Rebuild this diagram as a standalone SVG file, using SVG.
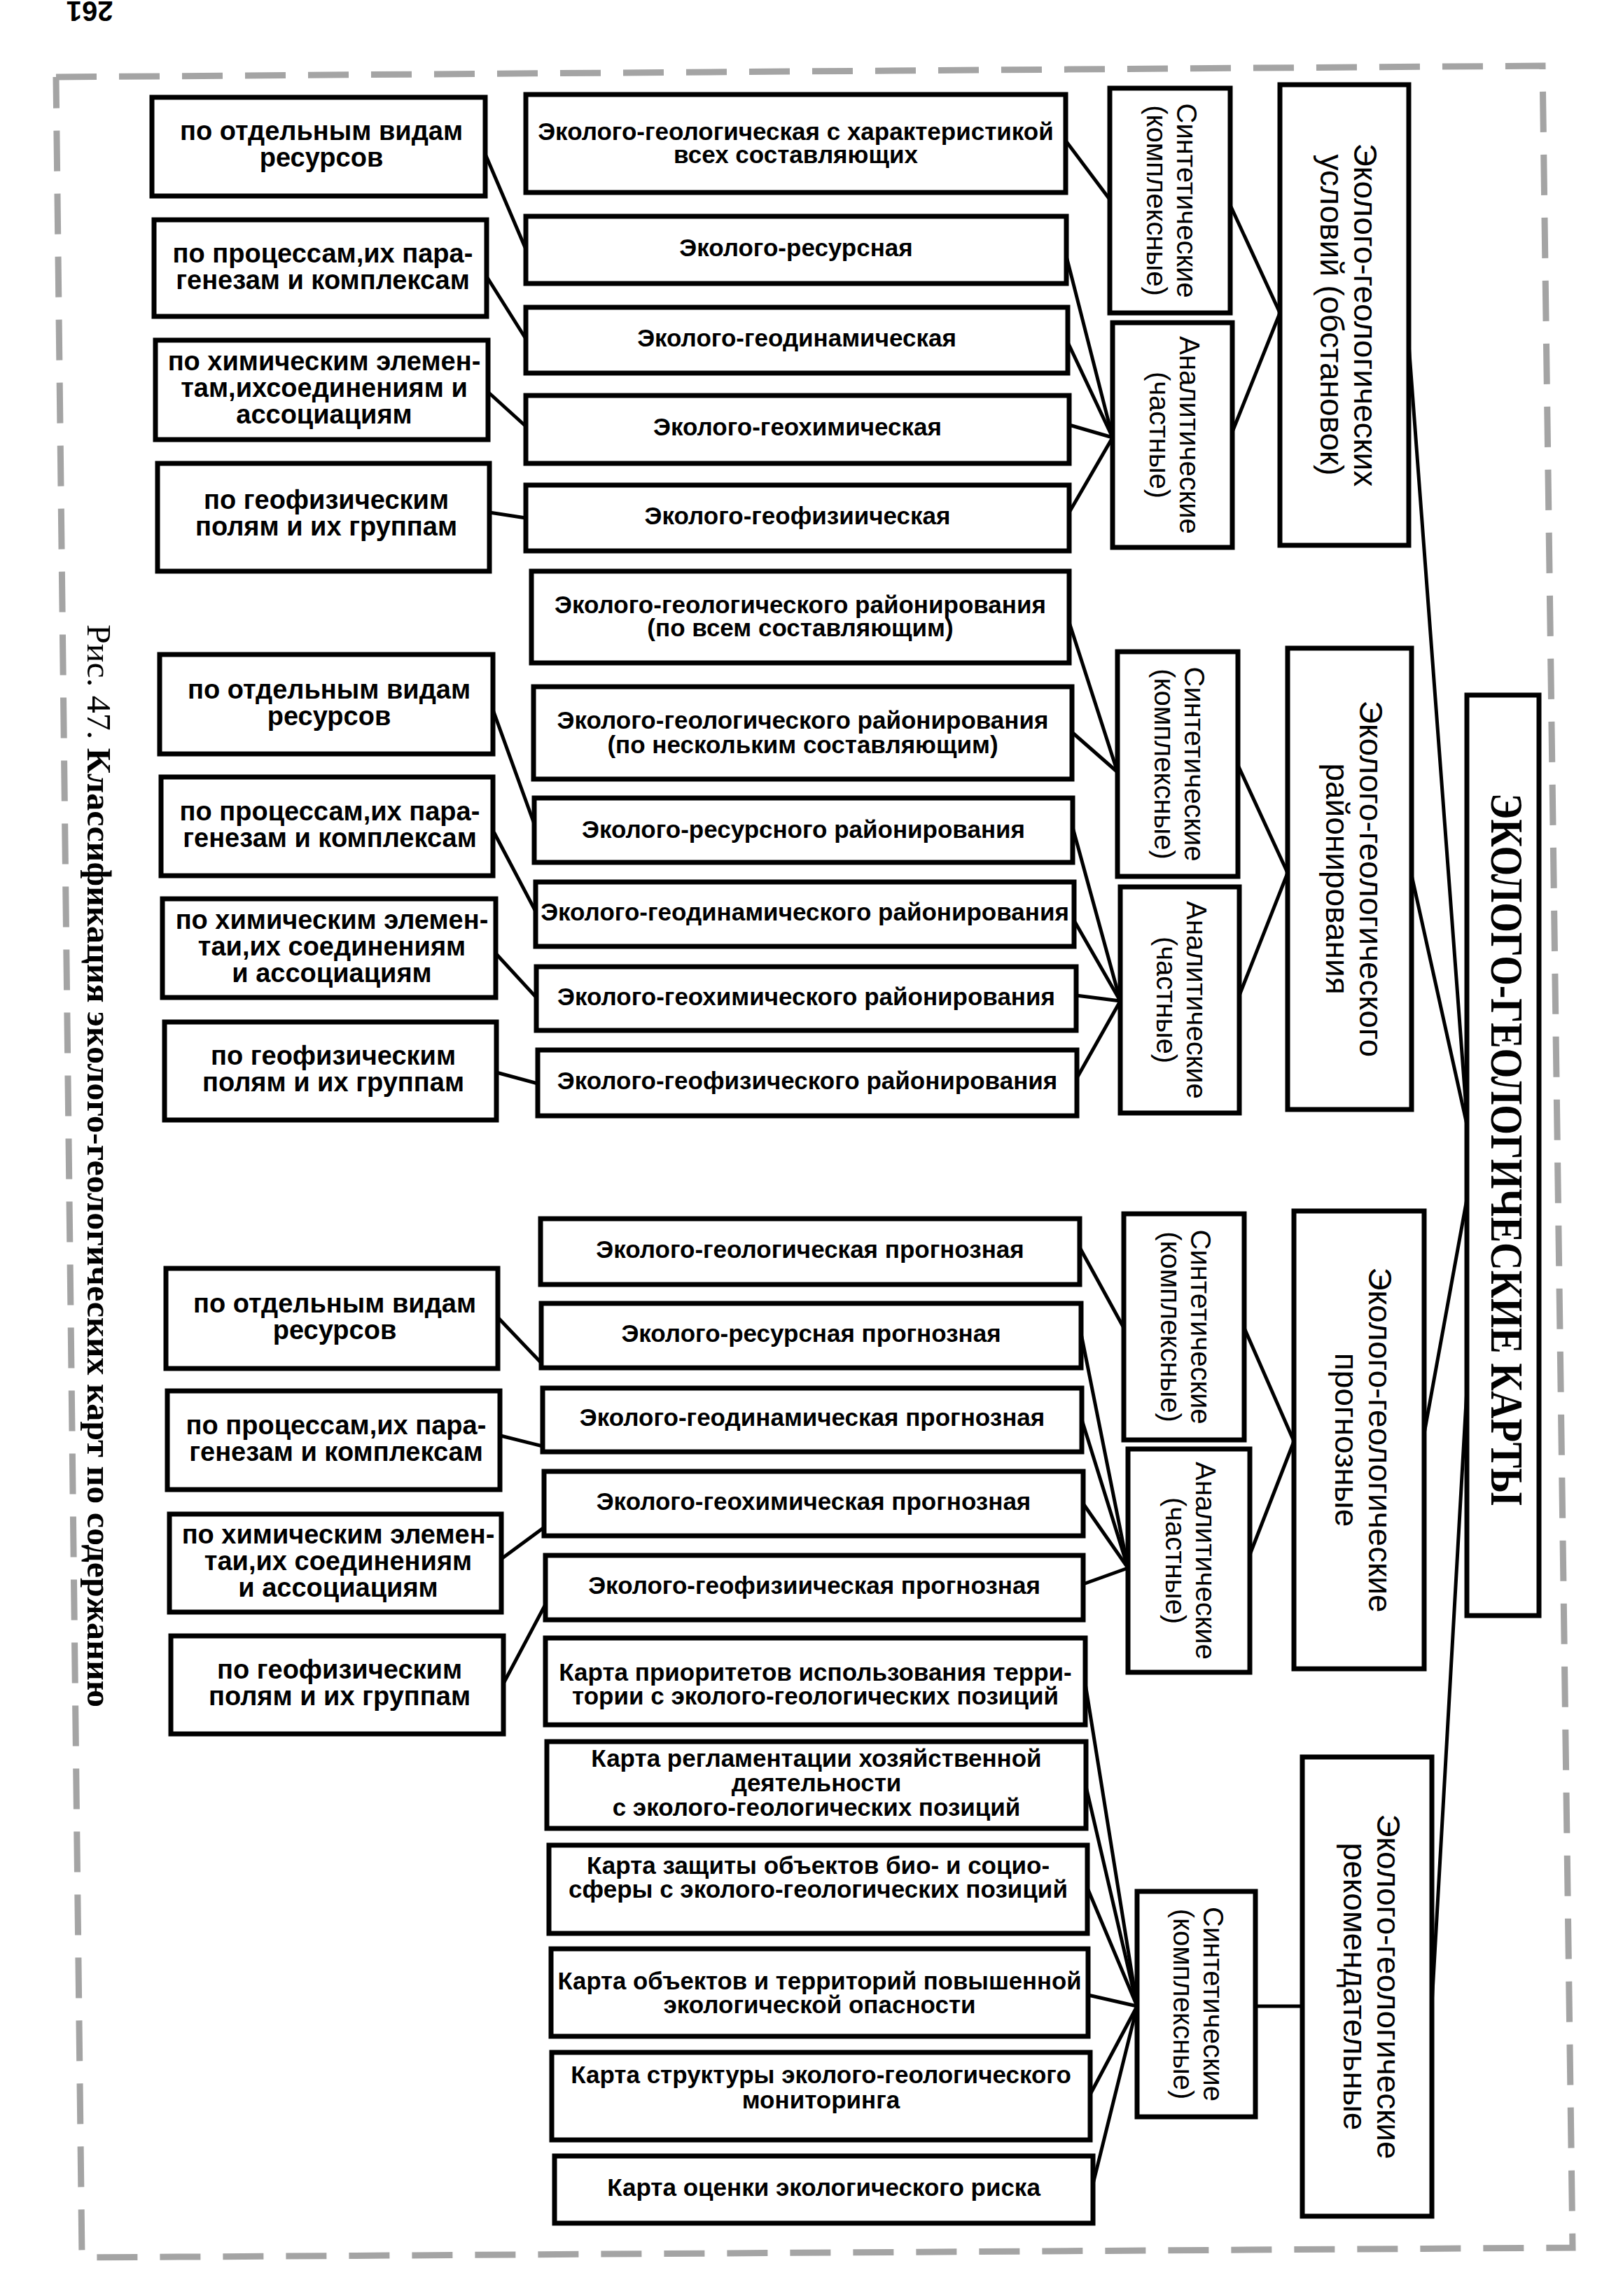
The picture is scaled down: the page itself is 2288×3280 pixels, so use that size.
<svg xmlns="http://www.w3.org/2000/svg" width="2288" height="3280" viewBox="0 0 2288 3280">
<style>
.box{fill:#fff;stroke:#000;stroke-width:7}
.ln{stroke:#000;stroke-width:5;fill:none;stroke-linecap:round}
.brd{stroke:#a4a4a4;stroke-width:9;stroke-dasharray:58 32;fill:none}
.tl{font-family:"Liberation Sans",Arial,sans-serif;font-weight:bold;font-size:38px;text-anchor:middle;fill:#000}
.tm{font-family:"Liberation Sans",Arial,sans-serif;font-weight:bold;font-size:35px;text-anchor:middle;fill:#000}
.tr{font-family:"Liberation Sans",Arial,sans-serif;font-size:40px;text-anchor:middle;fill:#000}
.tb{font-family:"Liberation Sans",Arial,sans-serif;font-size:46px;text-anchor:middle;fill:#000}
.tmain{font-family:"Liberation Serif","Times New Roman",serif;font-weight:bold;font-size:66px;text-anchor:middle;fill:#000}
.cap{font-family:"Liberation Serif","Times New Roman",serif;font-weight:bold;font-size:48px;fill:#000}
.pg{font-family:"Liberation Sans",Arial,sans-serif;font-weight:bold;font-size:40px;text-anchor:middle;fill:#000}
</style>
<rect width="2288" height="3280" fill="#fff"/>
<g id="page">
<text class="pg" transform="translate(128,2) rotate(180)">261</text>
<polyline class="brd" points="80,110 2203,94 2246,3211 117,3225 80,110"/>
<text class="cap" transform="translate(125,892) rotate(90)" textLength="1547" lengthAdjust="spacingAndGlyphs"><tspan font-weight="normal">Рис. 47. </tspan>Классификация эколого-геологических карт по содержанию</text>
</g>
<g id="connectors">
<!-- group 1 -->
<line class="ln" x1="693" y1="220" x2="751" y2="356"/>
<line class="ln" x1="695" y1="395" x2="751" y2="484"/>
<line class="ln" x1="697" y1="560" x2="751" y2="609"/>
<line class="ln" x1="699" y1="732" x2="751" y2="740"/>
<line class="ln" x1="1522" y1="201" x2="1585" y2="285"/>
<line class="ln" x1="1523" y1="366" x2="1589" y2="625"/>
<line class="ln" x1="1525" y1="489" x2="1589" y2="625"/>
<line class="ln" x1="1527" y1="607" x2="1589" y2="625"/>
<line class="ln" x1="1527" y1="732" x2="1589" y2="625"/>
<line class="ln" x1="1757" y1="293" x2="1828" y2="447"/>
<line class="ln" x1="1760" y1="617" x2="1828" y2="447"/>
<line class="ln" x1="2012" y1="492" x2="2096" y2="1611"/>
<!-- group 2 -->
<line class="ln" x1="704" y1="1014" x2="763" y2="1177"/>
<line class="ln" x1="706" y1="1190" x2="765" y2="1302"/>
<line class="ln" x1="708" y1="1362" x2="766" y2="1425"/>
<line class="ln" x1="709" y1="1532" x2="768" y2="1548"/>
<line class="ln" x1="1527" y1="889" x2="1596" y2="1103"/>
<line class="ln" x1="1531" y1="1046" x2="1596" y2="1103"/>
<line class="ln" x1="1532" y1="1182" x2="1600" y2="1430"/>
<line class="ln" x1="1534" y1="1315" x2="1600" y2="1430"/>
<line class="ln" x1="1537" y1="1422" x2="1600" y2="1430"/>
<line class="ln" x1="1538" y1="1540" x2="1600" y2="1430"/>
<line class="ln" x1="1768" y1="1093" x2="1839" y2="1247"/>
<line class="ln" x1="1770" y1="1422" x2="1839" y2="1247"/>
<line class="ln" x1="2016" y1="1250" x2="2096" y2="1611"/>
<!-- group 3 -->
<line class="ln" x1="711" y1="1882" x2="773" y2="1947"/>
<line class="ln" x1="715" y1="2051" x2="775" y2="2066"/>
<line class="ln" x1="716" y1="2227" x2="777" y2="2182"/>
<line class="ln" x1="719" y1="2405" x2="779" y2="2292"/>
<line class="ln" x1="1542" y1="1782" x2="1605" y2="1897"/>
<line class="ln" x1="1544" y1="1905" x2="1611" y2="2240"/>
<line class="ln" x1="1545" y1="2028" x2="1611" y2="2240"/>
<line class="ln" x1="1547" y1="2148" x2="1611" y2="2240"/>
<line class="ln" x1="1547" y1="2263" x2="1611" y2="2240"/>
<line class="ln" x1="1777" y1="1897" x2="1848" y2="2059"/>
<line class="ln" x1="1785" y1="2221" x2="1848" y2="2059"/>
<line class="ln" x1="2034" y1="2048" x2="2097" y2="1702"/>
<!-- group 4 -->
<line class="ln" x1="1550" y1="2405" x2="1624" y2="2866"/>
<line class="ln" x1="1551" y1="2552" x2="1624" y2="2866"/>
<line class="ln" x1="1553" y1="2697" x2="1624" y2="2866"/>
<line class="ln" x1="1554" y1="2850" x2="1624" y2="2866"/>
<line class="ln" x1="1557" y1="2992" x2="1624" y2="2866"/>
<line class="ln" x1="1561" y1="3120" x2="1624" y2="2866"/>
<line class="ln" x1="1793" y1="2866" x2="1860" y2="2866"/>
<line class="ln" x1="2045" y1="2863" x2="2100" y2="1897"/>
</g>

<g id="main">
<rect class="box" x="2095" y="993" width="103" height="1315"/>
<text class="tmain" transform="translate(2146.5,1642) rotate(90)" y="17" textLength="1018" lengthAdjust="spacingAndGlyphs">ЭКОЛОГО-ГЕОЛОГИЧЕСКИЕ КАРТЫ</text>
</g>

<!-- GROUP 1 -->
<g id="b1"><rect class="box" x="1828" y="121" width="184" height="658"/>
<text class="tb" transform="translate(1920,450) rotate(90)"><tspan x="0" y="-14">Эколого-геологических</tspan><tspan x="0" y="34">условий (обстановок)</tspan></text></g>
<g id="s1"><rect class="box" x="1585" y="126" width="172" height="321"/>
<text class="tr" transform="translate(1671,286.5) rotate(90)"><tspan x="0" y="-10">Синтетические</tspan><tspan x="0" y="33">(комплексные)</tspan></text></g>
<g id="a1"><rect class="box" x="1589" y="461" width="171" height="321"/>
<text class="tr" transform="translate(1674.5,621.5) rotate(90)"><tspan x="0" y="-10">Аналитические</tspan><tspan x="0" y="33">(частные)</tspan></text></g>
<g id="m1a"><rect class="box" x="751" y="135" width="771" height="140"/>
<text class="tm"><tspan x="1136.5" y="199.5">Эколого-геологическая с характеристикой</tspan><tspan x="1136.5" y="232.5">всех составляющих</tspan></text></g>
<g id="m1b"><rect class="box" x="751" y="309" width="772" height="96"/>
<text class="tm" x="1137" y="366">Эколого-ресурсная</text></g>
<g id="m1c"><rect class="box" x="751" y="439" width="774" height="94"/>
<text class="tm" x="1138" y="495">Эколого-геодинамическая</text></g>
<g id="m1d"><rect class="box" x="751" y="565" width="776" height="97"/>
<text class="tm" x="1139" y="622">Эколого-геохимическая</text></g>
<g id="m1e"><rect class="box" x="751" y="693" width="776" height="94"/>
<text class="tm" x="1139" y="749">Эколого-геофизиическая</text></g>
<g id="l1a"><rect class="box" x="217" y="139" width="476" height="141"/>
<text class="tl"><tspan x="459" y="200">по отдельным видам</tspan><tspan x="459" y="238">ресурсов</tspan></text></g>
<g id="l1b"><rect class="box" x="220" y="314" width="475" height="138"/>
<text class="tl"><tspan x="461" y="375">по процессам,их пара-</tspan><tspan x="461" y="413">генезам и комплексам</tspan></text></g>
<g id="l1c"><rect class="box" x="222" y="486" width="475" height="142"/>
<text class="tl"><tspan x="463" y="529">по химическим элемен-</tspan><tspan x="463" y="567">там,ихсоединениям и</tspan><tspan x="463" y="605">ассоциациям</tspan></text></g>
<g id="l1d"><rect class="box" x="225" y="662" width="474" height="154"/>
<text class="tl"><tspan x="466" y="727">по геофизическим</tspan><tspan x="466" y="765">полям и их группам</tspan></text></g>

<!-- GROUP 2 -->
<g id="b2"><rect class="box" x="1839" y="926" width="177" height="659"/>
<text class="tb" transform="translate(1927.5,1255.5) rotate(90)"><tspan x="0" y="-14">Эколого-геологического</tspan><tspan x="0" y="34">районирования</tspan></text></g>
<g id="s2"><rect class="box" x="1596" y="931" width="172" height="321"/>
<text class="tr" transform="translate(1682,1091.5) rotate(90)"><tspan x="0" y="-10">Синтетические</tspan><tspan x="0" y="33">(комплексные)</tspan></text></g>
<g id="a2"><rect class="box" x="1600" y="1267" width="170" height="323"/>
<text class="tr" transform="translate(1685,1428.5) rotate(90)"><tspan x="0" y="-10">Аналитические</tspan><tspan x="0" y="33">(частные)</tspan></text></g>
<g id="m2a"><rect class="box" x="759" y="816" width="768" height="131"/>
<text class="tm"><tspan x="1143" y="876">Эколого-геологического районирования</tspan><tspan x="1143" y="909">(по всем составляющим)</tspan></text></g>
<g id="m2b"><rect class="box" x="762" y="981" width="769" height="132"/>
<text class="tm"><tspan x="1146.5" y="1041">Эколого-геологического районирования</tspan><tspan x="1146.5" y="1076">(по нескольким составляющим)</tspan></text></g>
<g id="m2c"><rect class="box" x="763" y="1140" width="769" height="92"/>
<text class="tm" x="1147.5" y="1197">Эколого-ресурсного районирования</text></g>
<g id="m2d"><rect class="box" x="765" y="1260" width="769" height="92"/>
<text class="tm" x="1149.5" y="1315">Эколого-геодинамического районирования</text></g>
<g id="m2e"><rect class="box" x="766" y="1381" width="771" height="91"/>
<text class="tm" x="1151.5" y="1436">Эколого-геохимического районирования</text></g>
<g id="m2f"><rect class="box" x="768" y="1500" width="770" height="94"/>
<text class="tm" x="1153" y="1556">Эколого-геофизического районирования</text></g>
<g id="l2a"><rect class="box" x="228" y="935" width="476" height="142"/>
<text class="tl"><tspan x="470" y="998">по отдельным видам</tspan><tspan x="470" y="1036">ресурсов</tspan></text></g>
<g id="l2b"><rect class="box" x="230" y="1110" width="474" height="141"/>
<text class="tl"><tspan x="471" y="1172">по процессам,их пара-</tspan><tspan x="471" y="1210">генезам и комплексам</tspan></text></g>
<g id="l2c"><rect class="box" x="232" y="1284" width="476" height="141"/>
<text class="tl"><tspan x="474" y="1327">по химическим элемен-</tspan><tspan x="474" y="1365">таи,их соединениям</tspan><tspan x="474" y="1403">и ассоциациям</tspan></text></g>
<g id="l2d"><rect class="box" x="235" y="1460" width="474" height="140"/>
<text class="tl"><tspan x="476" y="1521">по геофизическим</tspan><tspan x="476" y="1559">полям и их группам</tspan></text></g>

<!-- GROUP 3 -->
<g id="b3"><rect class="box" x="1848" y="1730" width="186" height="654"/>
<text class="tb" transform="translate(1941,2057) rotate(90)"><tspan x="0" y="-14">Эколого-геологические</tspan><tspan x="0" y="34">прогнозные</tspan></text></g>
<g id="s3"><rect class="box" x="1605" y="1734" width="172" height="323"/>
<text class="tr" transform="translate(1691,1895.5) rotate(90)"><tspan x="0" y="-10">Синтетические</tspan><tspan x="0" y="33">(комплексные)</tspan></text></g>
<g id="a3"><rect class="box" x="1611" y="2070" width="174" height="319"/>
<text class="tr" transform="translate(1698,2229.5) rotate(90)"><tspan x="0" y="-10">Аналитические</tspan><tspan x="0" y="33">(частные)</tspan></text></g>
<g id="m3a"><rect class="box" x="772" y="1741" width="770" height="94"/>
<text class="tm" x="1157" y="1797">Эколого-геологическая прогнозная</text></g>
<g id="m3b"><rect class="box" x="773" y="1862" width="771" height="92"/>
<text class="tm" x="1158.5" y="1917">Эколого-ресурсная прогнозная</text></g>
<g id="m3c"><rect class="box" x="775" y="1983" width="770" height="91"/>
<text class="tm" x="1160" y="2037">Эколого-геодинамическая прогнозная</text></g>
<g id="m3d"><rect class="box" x="777" y="2102" width="770" height="92"/>
<text class="tm" x="1162" y="2157">Эколого-геохимическая прогнозная</text></g>
<g id="m3e"><rect class="box" x="779" y="2222" width="768" height="92"/>
<text class="tm" x="1163" y="2277">Эколого-геофизиическая прогнозная</text></g>
<g id="l3a"><rect class="box" x="237" y="1812" width="474" height="143"/>
<text class="tl"><tspan x="478" y="1875">по отдельным видам</tspan><tspan x="478" y="1913">ресурсов</tspan></text></g>
<g id="l3b"><rect class="box" x="239" y="1987" width="475" height="141"/>
<text class="tl"><tspan x="480" y="2049">по процессам,их пара-</tspan><tspan x="480" y="2087">генезам и комплексам</tspan></text></g>
<g id="l3c"><rect class="box" x="242" y="2163" width="474" height="140"/>
<text class="tl"><tspan x="483" y="2205">по химическим элемен-</tspan><tspan x="483" y="2243">таи,их соединениям</tspan><tspan x="483" y="2281">и ассоциациям</tspan></text></g>
<g id="l3d"><rect class="box" x="244" y="2337" width="475" height="140"/>
<text class="tl"><tspan x="485" y="2398">по геофизическим</tspan><tspan x="485" y="2436">полям и их группам</tspan></text></g>

<!-- GROUP 4 -->
<g id="b4"><rect class="box" x="1860" y="2510" width="185" height="656"/>
<text class="tb" transform="translate(1952.5,2838) rotate(90)"><tspan x="0" y="-14">Эколого-геологические</tspan><tspan x="0" y="34">рекомендательные</tspan></text></g>
<g id="s4"><rect class="box" x="1624" y="2702" width="169" height="322"/>
<text class="tr" transform="translate(1708.5,2863) rotate(90)"><tspan x="0" y="-10">Синтетические</tspan><tspan x="0" y="33">(комплексные)</tspan></text></g>
<g id="m4a"><rect class="box" x="779" y="2340" width="771" height="124"/>
<text class="tm"><tspan x="1164.5" y="2401">Карта приоритетов использования терри-</tspan><tspan x="1164.5" y="2435">тории с эколого-геологических позиций</tspan></text></g>
<g id="m4b"><rect class="box" x="781" y="2488" width="770" height="124"/>
<text class="tm"><tspan x="1166" y="2524">Карта регламентации хозяйственной</tspan><tspan x="1166" y="2559">деятельности</tspan><tspan x="1166" y="2594">с эколого-геологических позиций</tspan></text></g>
<g id="m4c"><rect class="box" x="784" y="2636" width="769" height="126"/>
<text class="tm"><tspan x="1168.5" y="2677">Карта защиты объектов био- и социо-</tspan><tspan x="1168.5" y="2711">сферы с эколого-геологических позиций</tspan></text></g>
<g id="m4d"><rect class="box" x="787" y="2784" width="767" height="125"/>
<text class="tm"><tspan x="1170.5" y="2842" textLength="748" lengthAdjust="spacingAndGlyphs">Карта объектов и территорий повышенной</tspan><tspan x="1170.5" y="2876">экологической опасности</tspan></text></g>
<g id="m4e"><rect class="box" x="788" y="2932" width="769" height="125"/>
<text class="tm"><tspan x="1172.5" y="2976">Карта структуры эколого-геологического</tspan><tspan x="1172.5" y="3012">мониторинга</tspan></text></g>
<g id="m4f"><rect class="box" x="792" y="3080" width="769" height="96"/>
<text class="tm" x="1176.5" y="3137">Карта оценки экологического риска</text></g>
</svg>
